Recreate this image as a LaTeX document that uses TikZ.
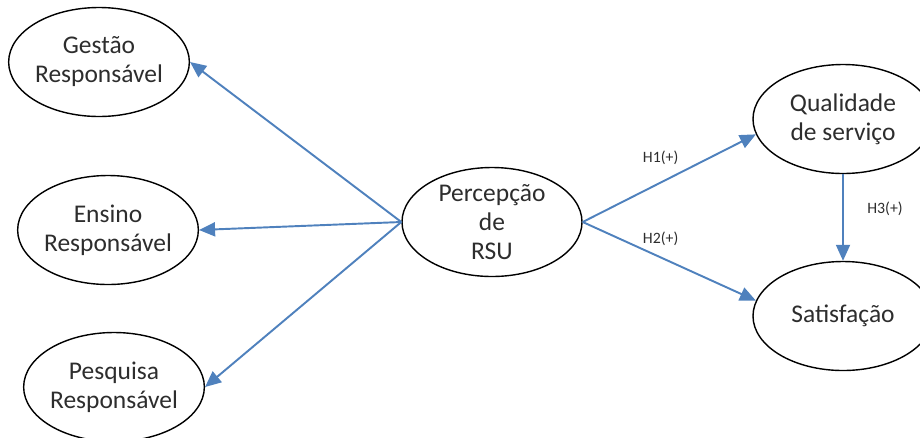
\documentclass[tikz,border=0pt]{standalone}
\usepackage{fontspec}
\setmainfont{Carlito}
\usetikzlibrary{positioning,shapes.geometric,arrows.meta}
\definecolor{arrowblue}{RGB}{79,129,189}
\definecolor{textgray}{RGB}{45,45,45}
\begin{document}
\begin{tikzpicture}[
    construct/.style={ellipse, draw=black, line width=0.8pt, inner sep=0pt,
      minimum width=3.6cm, minimum height=2.18cm, align=center,
      text=textgray, font=\fontsize{14.5}{16.5}\selectfont},
    hyp/.style={text=textgray, font=\fontsize{9}{10}\selectfont},
    link/.style={arrowblue, line width=1.1pt,
      -{Triangle[length=0.32cm,width=0.28cm]}}
  ]
  \useasboundingbox (0,0) rectangle (18.4,-8.74);
  \clip (0,0) rectangle (18.4,-8.74);
  \node (rsu) [construct, inner ysep=-0.25cm] at (9.84,-4.44) {Percepção\\de\\RSU};
  \node (ensino) [construct, left of=rsu, node distance=7.68cm, yshift=-0.16cm] {Ensino\\Responsável};
  \node (gestao) [construct, above of=ensino, node distance=3.36cm, xshift=-0.18cm] {Gestão\\Responsável};
  \node (pesquisa) [construct, below of=ensino, node distance=3.14cm, xshift=0.12cm] {Pesquisa\\Responsável};
  \node (qualidade) [construct, right of=rsu, node distance=7.02cm, yshift=2.06cm] {Qualidade\\de serviço};
  \node (satisfacao) [construct, below of=qualidade, node distance=3.94cm] {Satisfação};
  \path[link] (rsu.west) edge node {} (gestao.east)
              (rsu.west) edge node {} (ensino.east)
              (rsu.west) edge node {} (pesquisa.east)
              (rsu.east) edge node[hyp, pos=0.45, above=0.22cm] {H1(+)} (qualidade.190)
              (rsu.east) edge node[hyp, pos=0.45, above=0.1cm] {H2(+)} (satisfacao.170)
              (qualidade) edge node[hyp, pos=0.4, right=0.35cm] {H3(+)} (satisfacao)
              ;
\end{tikzpicture}
\end{document}
